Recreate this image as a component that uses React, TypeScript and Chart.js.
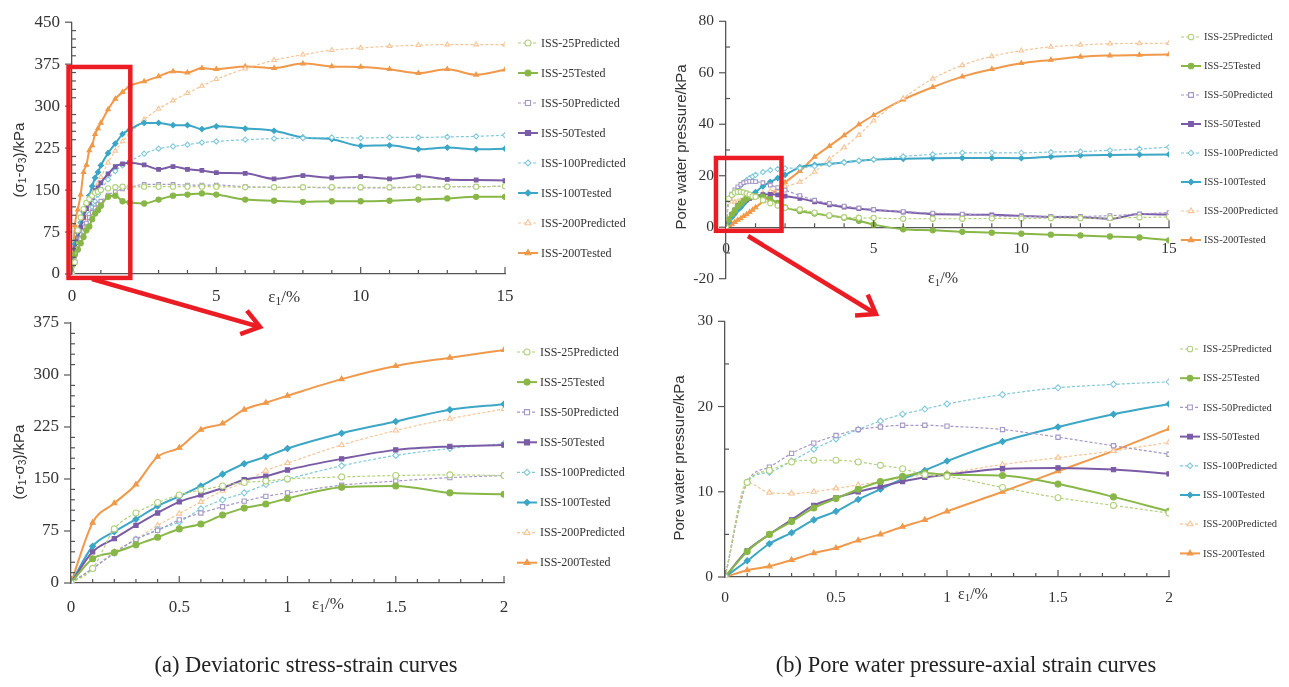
import React, { useEffect, useRef } from 'react';
import { Chart, registerables } from 'chart.js';
Chart.register(...registerables);

// ---------- DATA ----------
// axial strain (%) used for the zoomed 0–2 % plots
const strainZoom = [0, 0.1, 0.2, 0.3, 0.4, 0.5, 0.6, 0.7, 0.8, 0.9, 1.0, 1.25, 1.5, 1.75, 2.0];
// additional axial strain points (%) for the full 0–15 % plots
const strainTail = [2.5, 3, 3.5, 4, 4.5, 5, 6, 7, 8, 9, 10, 11, 12, 13, 14, 15];

const seriesLabels = [
  'ISS-25Predicted', 'ISS-25Tested', 'ISS-50Predicted', 'ISS-50Tested',
  'ISS-100Predicted', 'ISS-100Tested', 'ISS-200Predicted', 'ISS-200Tested',
];

// Deviatoric stress (kPa) 0–2 %
const q25Pred = [0, 21, 78, 101, 116, 127, 134, 140, 145, 147, 150, 153, 155, 156, 155];
const q25Test = [0, 35, 44, 55, 66, 78, 85, 98, 108, 114, 122, 138, 140, 130, 128];
const q50Pred = [0, 21, 43, 63, 76, 91, 101, 110, 118, 125, 130, 141, 147, 152, 155];
const q50Test = [0, 45, 64, 83, 101, 117, 127, 137, 149, 154, 163, 179, 192, 197, 199];
const q100Pred = [0, 21, 43, 63, 77, 88, 107, 120, 130, 142, 150, 169, 184, 194, 201];
const q100Test = [0, 53, 74, 92, 111, 125, 140, 157, 172, 182, 194, 216, 233, 250, 258];
const q200Pred = [0, 21, 45, 63, 83, 100, 117, 133, 145, 162, 173, 199, 220, 237, 251];
const q200Test = [0, 87, 115, 142, 182, 195, 221, 230, 250, 260, 270, 294, 313, 325, 336];

// Deviatoric stress (kPa) 2.5–15 %
const q25PredTail = [156, 156, 156, 156, 156, 156, 155, 155, 155, 155, 155, 155, 155, 156, 156, 157];
const q25TestTail = [126, 133, 140, 142, 144, 142, 133, 131, 129, 130, 130, 131, 133, 135, 138, 138];
const q50PredTail = [160, 160, 160, 159, 159, 159, 156, 155, 155, 154, 154, 154, 155, 156, 156, 157];
const q50TestTail = [195, 187, 192, 187, 185, 181, 180, 170, 176, 172, 174, 170, 175, 169, 168, 167];
const q100PredTail = [215, 224, 228, 231, 235, 237, 240, 242, 243, 244, 243, 244, 244, 245, 246, 248];
const q100TestTail = [270, 270, 266, 266, 259, 264, 260, 256, 244, 241, 229, 230, 223, 226, 223, 224];
const q200PredTail = [276, 295, 310, 323, 336, 348, 367, 382, 392, 400, 404, 407, 409, 410, 410, 410];
const q200TestTail = [344, 353, 362, 360, 368, 366, 371, 368, 376, 371, 370, 366, 359, 366, 356, 365];

// Pore water pressure (kPa) 0–2 %
const u25Pred = [0, 11.1, 12.5, 13.5, 13.7, 13.7, 13.5, 13.1, 12.7, 12.0, 11.8, 10.5, 9.3, 8.4, 7.5];
const u25Test = [0, 3.0, 5.0, 6.5, 8.1, 9.2, 10.3, 11.2, 11.8, 12.2, 12.0, 11.9, 10.9, 9.4, 7.7];
const u50Pred = [0, 11.1, 12.9, 14.5, 15.7, 16.6, 17.3, 17.6, 17.8, 17.8, 17.7, 17.3, 16.4, 15.4, 14.4];
const u50Test = [0, 3.1, 5.0, 6.7, 8.4, 9.3, 10.0, 10.6, 11.2, 11.7, 12.0, 12.7, 12.8, 12.6, 12.1];
const u100Pred = [0, 11.1, 12.3, 13.6, 15.0, 16.2, 17.3, 18.3, 19.1, 19.7, 20.3, 21.4, 22.2, 22.6, 22.9];
const u100Test = [0, 1.9, 3.9, 5.2, 6.7, 7.7, 9.1, 10.3, 11.5, 12.5, 13.6, 15.9, 17.6, 19.1, 20.3];
const u200Pred = [0, 11.1, 9.9, 9.8, 10.0, 10.4, 10.8, 11.2, 11.6, 12.0, 12.2, 13.2, 14.0, 14.8, 15.8];
const u200Test = [0, 0.8, 1.25, 2.0, 2.8, 3.4, 4.3, 5.0, 5.9, 6.7, 7.7, 10.0, 12.4, 14.8, 17.4];

// Pore water pressure (kPa) 2.5–15 %
const u25PredTail = [6.9, 5.7, 4.6, 3.9, 3.7, 3.6, 3.3, 3.3, 3.3, 3.4, 3.4, 3.5, 3.5, 3.6, 3.8, 4.0];
const u25TestTail = [6.3, 5.3, 4.5, 3.7, 2.5, 1.0, -0.8, -1.2, -1.8, -2.1, -2.5, -2.9, -3.2, -3.6, -4.0, -5.1];
const u50PredTail = [12.3, 10.5, 9.3, 8.2, 7.5, 6.9, 6.1, 5.5, 5.1, 4.4, 4.2, 4.2, 4.2, 4.5, 5.1, 5.7];
const u50TestTail = [11.2, 9.9, 8.7, 7.8, 7.2, 6.7, 5.9, 5.1, 4.9, 4.8, 4.4, 4.0, 3.9, 3.3, 5.1, 4.9];
const u100PredTail = [23.0, 23.7, 24.5, 25.2, 25.8, 26.3, 27.5, 28.3, 28.9, 28.9, 28.9, 29.2, 29.4, 29.9, 30.4, 31.1];
const u100TestTail = [23.3, 24.2, 24.6, 25.2, 25.8, 26.3, 26.6, 26.8, 26.9, 26.9, 26.8, 27.4, 27.9, 28.1, 28.2, 28.3];
const u200PredTail = [17.6, 21.5, 26.5, 31.0, 35.8, 41.4, 50.1, 57.7, 62.9, 66.4, 68.6, 70.1, 70.8, 71.3, 71.4, 71.5];
const u200TestTail = [21.8, 27.3, 31.5, 35.7, 39.9, 43.5, 49.6, 54.4, 58.5, 61.4, 63.7, 65.0, 66.2, 66.7, 66.9, 67.1];

const stressZoom = [q25Pred, q25Test, q50Pred, q50Test, q100Pred, q100Test, q200Pred, q200Test];
const stressTail = [q25PredTail, q25TestTail, q50PredTail, q50TestTail, q100PredTail, q100TestTail, q200PredTail, q200TestTail];
const poreZoom = [u25Pred, u25Test, u50Pred, u50Test, u100Pred, u100Test, u200Pred, u200Test];
const poreTail = [u25PredTail, u25TestTail, u50PredTail, u50TestTail, u100PredTail, u100TestTail, u200PredTail, u200TestTail];

const captionA = '(a) Deviatoric stress-strain curves';
const captionB = '(b) Pore water pressure-axial strain curves';

// ---------- STYLES ----------
const seriesColors = ['#b2d17c', '#88b748', '#a597c5', '#7a5ca6', '#80c9da', '#3ba6c6', '#f5c597', '#f0994a'];
const seriesMarkers = ['circle', 'circle', 'rect', 'rect', 'rectRot', 'rectRot', 'triangle', 'triangle'];
const RED = '#ec1c24';
const SERIF = "'Liberation Serif', 'Times New Roman', serif";
const SANS = "'Liberation Sans', Arial, sans-serif";

Chart.defaults.font.family = SERIF;
Chart.defaults.color = '#333';

type Part = { t: string; sub?: boolean };

const isMult = (v: number, m: number) => Math.abs(v / m - Math.round(v / m)) < 1e-6;

function drawMarker(ctx: CanvasRenderingContext2D, style: string, x: number, y: number, r: number, fill: string, stroke: string, lw: number) {
  ctx.beginPath();
  if (style === 'circle') {
    ctx.arc(x, y, r, 0, Math.PI * 2);
  } else if (style === 'rect') {
    const s = r * 0.85;
    ctx.rect(x - s, y - s, 2 * s, 2 * s);
  } else if (style === 'rectRot') {
    ctx.moveTo(x, y - r); ctx.lineTo(x + r, y); ctx.lineTo(x, y + r); ctx.lineTo(x - r, y); ctx.closePath();
  } else {
    const R = r * 1.15;
    for (let k = 0; k < 3; k++) {
      const a = -Math.PI / 2 + k * (2 * Math.PI / 3);
      const px = x + R * Math.cos(a), py = y + R * Math.sin(a);
      if (k === 0) ctx.moveTo(px, py); else ctx.lineTo(px, py);
    }
    ctx.closePath();
  }
  ctx.fillStyle = fill; ctx.fill();
  ctx.lineWidth = lw; ctx.strokeStyle = stroke; ctx.stroke();
}

function drawRich(ctx: CanvasRenderingContext2D, parts: Part[], cx: number, cy: number, size: number, family: string) {
  const sub = size * 0.68;
  let w = 0;
  parts.forEach(p => { ctx.font = `${p.sub ? sub : size}px ${family}`; w += ctx.measureText(p.t).width; });
  let x = cx - w / 2;
  ctx.textAlign = 'left';
  ctx.textBaseline = 'middle';
  parts.forEach(p => {
    ctx.font = `${p.sub ? sub : size}px ${family}`;
    ctx.fillText(p.t, x, cy + (p.sub ? size * 0.22 : 0));
    x += ctx.measureText(p.t).width;
  });
}

const decoPlugin = {
  id: 'deco',
  afterDraw(chart: any, _a: any, o: any) {
    const ctx: CanvasRenderingContext2D = chart.ctx;
    const xs = chart.scales.x, ys = chart.scales.y;
    const area = chart.chartArea;
    const yLine = o.xAtZero ? ys.getPixelForValue(0) : area.bottom;
    ctx.save();
    // tick marks
    ctx.strokeStyle = '#555';
    ctx.lineWidth = 1.2;
    xs.ticks.forEach((t: any) => {
      const px = xs.getPixelForValue(t.value);
      const len = isMult(t.value, o.xMajor) ? 7 : 4;
      ctx.beginPath(); ctx.moveTo(px, yLine); ctx.lineTo(px, yLine - len); ctx.stroke();
    });
    ys.ticks.forEach((t: any) => {
      const py = ys.getPixelForValue(t.value);
      ctx.beginPath();
      if (isMult(t.value, o.yMajor)) { ctx.moveTo(area.left - 7, py); ctx.lineTo(area.left, py); }
      else { ctx.moveTo(area.left, py); ctx.lineTo(area.left + 4, py); }
      ctx.stroke();
    });
    // axis titles
    ctx.fillStyle = '#333';
    drawRich(ctx, o.xTitle.parts, xs.getPixelForValue(o.xTitle.value), yLine + o.xTitle.dy, o.xTitle.size, SERIF);
    ctx.save();
    ctx.translate(o.yTitle.x, o.yTitle.y);
    ctx.rotate(-Math.PI / 2);
    drawRich(ctx, o.yTitle.parts, 0, 0, o.yTitle.size, SANS);
    ctx.restore();
    // legend
    const lg = o.legend;
    chart.data.datasets.forEach((ds: any, i: number) => {
      const y = lg.y + i * lg.gap;
      ctx.beginPath();
      ctx.setLineDash(ds.borderDash || []);
      ctx.strokeStyle = ds.borderColor;
      ctx.lineWidth = ds.borderWidth;
      ctx.moveTo(lg.x, y); ctx.lineTo(lg.x + 20, y); ctx.stroke();
      ctx.setLineDash([]);
      drawMarker(ctx, ds.pointStyle, lg.x + 10, y, lg.r, ds.pointBackgroundColor, ds.pointBorderColor, 1.1);
      ctx.fillStyle = '#333';
      ctx.font = `${lg.size}px ${SERIF}`;
      ctx.textAlign = 'left';
      ctx.textBaseline = 'middle';
      ctx.fillText(ds.label, lg.x + 23, y + 0.5);
    });
    // red zoom box
    if (o.box) {
      const b = o.box;
      const x0 = xs.getPixelForValue(b.x0), x1 = xs.getPixelForValue(b.x1);
      const y0 = ys.getPixelForValue(b.y0), y1 = ys.getPixelForValue(b.y1);
      ctx.strokeStyle = RED;
      ctx.lineWidth = 4.5;
      ctx.strokeRect(x0, y1, x1 - x0, y0 - y1);
    }
    ctx.restore();
  },
};

function makeDatasets(xs: number[], series: number[][], radius: number) {
  return series.map((ys, i) => {
    const pred = i % 2 === 0;
    const c = seriesColors[i];
    return {
      label: seriesLabels[i],
      data: xs.map((x, k) => ({ x, y: ys[k] })),
      borderColor: c,
      backgroundColor: pred ? '#ffffff' : c,
      borderWidth: pred ? 1.2 : 2,
      borderDash: pred ? [3, 2] : [],
      pointStyle: seriesMarkers[i],
      pointRadius: radius,
      pointBorderWidth: 1.1,
      pointBorderColor: c,
      pointBackgroundColor: pred ? '#ffffff' : c,
      cubicInterpolationMode: 'monotone',
      fill: false,
    };
  });
}

type Cfg = {
  xs: number[]; series: number[][]; radius: number;
  xMin: number; xMax: number; xStep: number; xMajor: number;
  yMin: number; yMax: number; yStep: number; yMajor: number;
  yAxisWidth: number; xAxisHeight: number; pad: any; xAtZero?: boolean;
  tickSize: number; xPad: number; deco: any;
};

function buildConfig(c: Cfg): any {
  const fmt = (m: number) => (v: any) => (isMult(Number(v), m) ? String(parseFloat(Number(v).toFixed(3))) : '');
  return {
    type: 'line',
    data: { datasets: makeDatasets(c.xs, c.series, c.radius) },
    plugins: [decoPlugin],
    options: {
      animation: false,
      responsive: false,
      maintainAspectRatio: false,
      events: [],
      layout: { padding: c.pad },
      plugins: { legend: { display: false }, tooltip: { enabled: false }, title: { display: false }, deco: c.deco },
      scales: {
        x: {
          type: 'linear',
          position: c.xAtZero ? { y: 0 } : 'bottom',
          min: c.xMin, max: c.xMax,
          grid: { display: true, drawOnChartArea: false, drawTicks: false },
          border: { display: true, color: '#555', width: 1.3 },
          ticks: { stepSize: c.xStep, autoSkip: false, maxRotation: 0, padding: c.xPad, color: '#333', font: { size: c.tickSize }, callback: fmt(c.xMajor) },
          afterFit: (s: any) => { if (!c.xAtZero) s.height = c.xAxisHeight; },
        },
        y: {
          type: 'linear',
          min: c.yMin, max: c.yMax,
          grid: { display: true, drawOnChartArea: false, drawTicks: false },
          border: { display: true, color: '#555', width: 1.3 },
          ticks: { stepSize: c.yStep, autoSkip: false, padding: 12, color: '#333', font: { size: c.tickSize }, callback: fmt(c.yMajor) },
          afterFit: (s: any) => { s.width = c.yAxisWidth; },
        },
      },
    },
  };
}

const epsParts: Part[] = [{ t: 'ε' }, { t: '1', sub: true }, { t: '/%' }];
const stressParts: Part[] = [{ t: '(σ' }, { t: '1', sub: true }, { t: '-σ' }, { t: '3', sub: true }, { t: ')/kPa' }];
const poreParts: Part[] = [{ t: 'Pore water pressure/kPa' }];

const fullStrain = strainZoom.concat(strainTail);

const configs = [
  {
    left: 0, top: 0, width: 645, height: 316,
    cfg: buildConfig({
      xs: fullStrain, series: stressZoom.map((s, i) => s.concat(stressTail[i])), radius: 2.6,
      xMin: 0, xMax: 15, xStep: 1, xMajor: 5, yMin: 0, yMax: 450, yStep: 15, yMajor: 75,
      yAxisWidth: 72, xAxisHeight: 42, pad: { left: 0, right: 140, top: 15, bottom: 0 },
      tickSize: 17, xPad: 12,
      deco: {
        xMajor: 5, yMajor: 75,
        xTitle: { parts: epsParts, value: 7.35, dy: 24, size: 17 },
        yTitle: { parts: stressParts, x: 20, y: 160, size: 15 },
        legend: { x: 518, y: 43, gap: 30, size: 12, r: 3 },
        box: { x0: -0.12, x1: 2.02, y0: -7, y1: 370 },
      },
    }),
  },
  {
    left: 0, top: 300, width: 645, height: 320,
    cfg: buildConfig({
      xs: strainZoom, series: stressZoom, radius: 3,
      xMin: 0, xMax: 2, xStep: 0.1, xMajor: 0.5, yMin: 0, yMax: 375, yStep: 15, yMajor: 75,
      yAxisWidth: 71, xAxisHeight: 37, pad: { left: 0, right: 141, top: 23, bottom: 0 },
      tickSize: 17, xPad: 14,
      deco: {
        xMajor: 0.5, yMajor: 75,
        xTitle: { parts: epsParts, value: 1.187, dy: 22, size: 17 },
        yTitle: { parts: stressParts, x: 20, y: 162, size: 15 },
        legend: { x: 517, y: 52, gap: 30.1, size: 12, r: 3 },
      },
    }),
  },
  {
    left: 650, top: 0, width: 639, height: 300,
    cfg: buildConfig({
      xs: fullStrain, series: poreZoom.map((s, i) => s.concat(poreTail[i])), radius: 2.6,
      xMin: 0, xMax: 15, xStep: 1, xMajor: 5, yMin: -20, yMax: 80, yStep: 10, yMajor: 20,
      yAxisWidth: 76, xAxisHeight: 0, pad: { left: 0, right: 120, top: 7, bottom: 13 }, xAtZero: true,
      tickSize: 15.5, xPad: 12,
      deco: {
        xMajor: 5, yMajor: 20, xAtZero: true,
        xTitle: { parts: epsParts, value: 7.35, dy: 52, size: 16 },
        yTitle: { parts: poreParts, x: 32, y: 147, size: 15 },
        legend: { x: 531, y: 37, gap: 29, size: 10.5, r: 2.8 },
        box: { x0: -0.34, x1: 1.88, y0: -1.4, y1: 26.9 },
      },
    }),
  },
  {
    left: 650, top: 300, width: 639, height: 320,
    cfg: buildConfig({
      xs: strainZoom, series: poreZoom, radius: 3,
      xMin: 0, xMax: 2, xStep: 0.1, xMajor: 0.5, yMin: 0, yMax: 30, yStep: 5, yMajor: 10,
      yAxisWidth: 75, xAxisHeight: 43, pad: { left: 0, right: 120, top: 13, bottom: 0 },
      tickSize: 15.5, xPad: 12,
      deco: {
        xMajor: 0.5, yMajor: 10,
        xTitle: { parts: epsParts, value: 1.117, dy: 18, size: 16 },
        yTitle: { parts: poreParts, x: 30, y: 158, size: 15 },
        legend: { x: 530, y: 49, gap: 29.2, size: 10.5, r: 2.8 },
      },
    }),
  },
];

function ChartCanvas({ cfg, left, top, width, height }: any) {
  const ref = useRef<HTMLCanvasElement>(null);
  useEffect(() => {
    const chart = new Chart(ref.current as HTMLCanvasElement, cfg);
    return () => chart.destroy();
  }, []);
  return (
    <canvas ref={ref} width={width} height={height}
      style={{ position: 'absolute', left, top, width, height }} />
  );
}

function Arrow({ x1, y1, x2, y2 }: { x1: number; y1: number; x2: number; y2: number }) {
  const a = Math.atan2(y2 - y1, x2 - x1);
  const L = 21, spread = 0.62;
  const p1 = [x2 - L * Math.cos(a - spread), y2 - L * Math.sin(a - spread)];
  const p2 = [x2 - L * Math.cos(a + spread), y2 - L * Math.sin(a + spread)];
  return (
    <g stroke={RED} strokeWidth={4.5} fill="none" strokeLinecap="butt" strokeLinejoin="miter">
      <line x1={x1} y1={y1} x2={x2 - 2 * Math.cos(a)} y2={y2 - 2 * Math.sin(a)} />
      <polyline points={`${p1[0]},${p1[1]} ${x2},${y2} ${p2[0]},${p2[1]}`} />
    </g>
  );
}

export default function App() {
  return (
    <div style={{ position: 'absolute', left: 0, top: 0, width: 1289, height: 687, background: '#fff', overflow: 'hidden' }}>
      {configs.map((c, i) => (
        <ChartCanvas key={i} cfg={c.cfg} left={c.left} top={c.top} width={c.width} height={c.height} />
      ))}
      <svg width={1289} height={687} style={{ position: 'absolute', left: 0, top: 0, pointerEvents: 'none' }}>
        <Arrow x1={92} y1={279} x2={260} y2={327} />
        <Arrow x1={748} y1={236} x2={876} y2={314} />
      </svg>
      <div style={{ position: 'absolute', left: 56, width: 500, top: 653, textAlign: 'center', font: `22.5px ${SERIF}`, lineHeight: '24px', color: '#222' }}>
        {captionA}
      </div>
      <div style={{ position: 'absolute', left: 716, width: 500, top: 653, textAlign: 'center', font: `22.5px ${SERIF}`, lineHeight: '24px', color: '#222' }}>
        {captionB}
      </div>
    </div>
  );
}
